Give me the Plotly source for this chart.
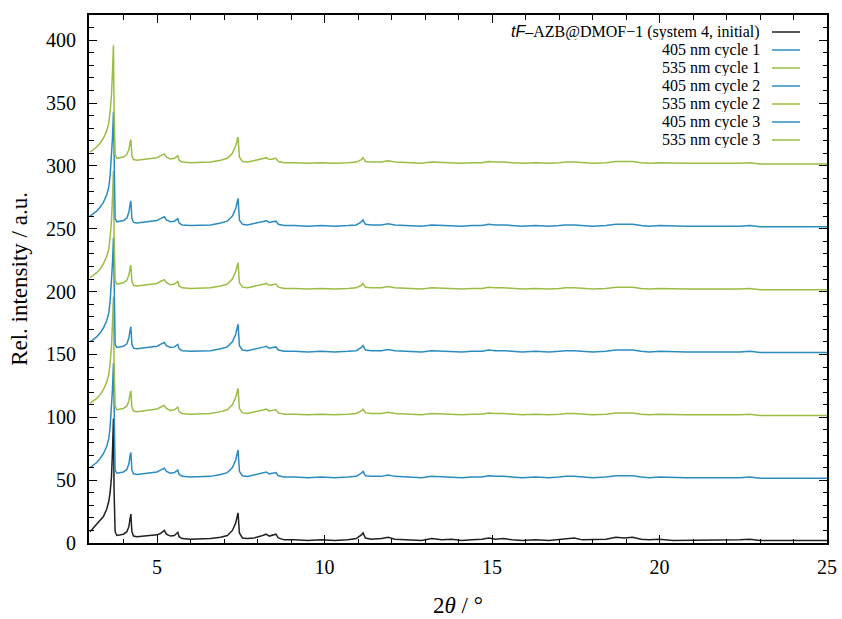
import plotly.graph_objects as go

# 2-theta positions (degrees)
two_theta = [3.00, 3.10, 3.20, 3.30, 3.40, 3.50, 3.56, 3.60, 3.64, 3.67,
             3.70, 3.72, 3.75, 3.80, 3.90, 4.00, 4.10, 4.16, 4.20, 4.22,
             4.25, 4.30, 4.40, 4.60, 4.80, 5.00, 5.10, 5.18, 5.22, 5.28,
             5.40, 5.52, 5.60, 5.62, 5.66, 5.75, 6.00, 6.30, 6.60, 6.90,
             7.10, 7.25, 7.35, 7.40, 7.42, 7.46, 7.55, 7.70, 7.90, 8.10,
             8.20, 8.26, 8.35, 8.45, 8.55, 8.62, 8.80, 9.10, 9.50, 9.90,
             10.30, 10.70, 10.95, 11.10, 11.15, 11.22, 11.40, 11.70, 11.90, 12.10,
             12.50, 12.90, 13.20, 13.50, 13.80, 14.10, 14.40, 14.70, 14.90, 15.10,
             15.35, 15.60, 15.90, 16.30, 16.70, 17.00, 17.20, 17.45, 17.70, 18.00,
             18.40, 18.70, 18.95, 19.20, 19.45, 19.70, 20.00, 20.40, 20.80, 21.20,
             21.60, 22.00, 22.40, 22.70, 23.00, 23.40, 23.80, 24.20, 24.60, 25.00]

# relative intensities (a.u.)
initial = [9, 12, 15, 18, 21, 27, 33, 40, 52, 72,
           99, 40, 9, 6, 6.5, 7, 9, 13, 20, 23,
           9, 5.5, 5, 5.5, 5.5, 6.5, 7.5, 9, 10, 7,
           5.5, 6, 8, 8.5, 5, 3.5, 3, 3, 3.5, 4.5,
           6, 10, 16, 22, 24, 8, 4, 3.5, 4, 5.5,
           6.5, 7, 5.5, 6, 7, 4, 2.5, 2.5, 2, 2.5,
           2, 2.5, 3.5, 6.5, 8, 4, 3, 3.5, 4.5, 3,
           2.5, 2, 3.5, 2.5, 3, 2, 2.5, 3, 4, 3,
           3.5, 2.5, 2, 2.5, 2, 3, 3.5, 4, 2.5, 2.5,
           3, 4.5, 4, 4.5, 3, 2.5, 3, 2, 2, 2.5,
           2, 2, 2.5, 3, 2, 2, 2, 2.5, 2, 2]

nm405 = [10, 12, 14, 17, 21, 27, 33, 42, 55, 72,
         93, 40, 8, 5.5, 6, 6.5, 8.5, 13, 20, 22,
         8, 5, 4.5, 5, 5.5, 6.5, 8, 9, 9.5, 7,
         5.5, 6, 7.5, 8, 4.5, 3, 2.5, 2.5, 3, 4.5,
         6, 10, 16, 22, 24, 7, 3.5, 3, 4, 5,
         6, 6.5, 5, 5.5, 6, 3.5, 2.5, 2.5, 2, 2.5,
         2, 2.5, 3, 5.5, 7, 3.5, 3, 3, 4, 3,
         2.5, 2, 3, 2.5, 2.5, 2, 2.5, 2.5, 3.5, 3,
         3, 2.5, 2, 2.5, 2, 2.5, 3, 3, 2.5, 2,
         2.5, 3.5, 3.5, 3.5, 2.5, 2, 2.5, 2, 2, 2,
         2, 1.5, 2, 2.5, 1.5, 1.5, 1.5, 2, 1.5, 1.5]

nm535 = [11, 13, 15, 18, 22, 28, 34, 43, 56, 74,
         96, 42, 9, 6, 6.5, 7, 9, 13, 19, 21,
         8, 5, 4.5, 5, 5.5, 6.5, 8, 9, 9.5, 7,
         5.5, 6, 7.5, 8, 4.5, 3, 2.5, 2.5, 3, 4.5,
         6, 10, 16, 21, 23, 7, 3.5, 3, 4, 5,
         6, 6.5, 5, 5.5, 6, 3.5, 2.5, 2.5, 2, 2.5,
         2, 2.5, 3, 5, 6.5, 3.5, 3, 3, 4, 3,
         2.5, 2, 3, 2.5, 2.5, 2, 2.5, 2.5, 3.5, 3,
         3, 2.5, 2, 2.5, 2, 2.5, 3, 3, 2.5, 2,
         2.5, 3.5, 3.5, 3.5, 2.5, 2, 2.5, 2, 2, 2,
         2, 1.5, 2, 2.5, 1.5, 1.5, 1.5, 2, 1.5, 1.5]

series_names = ["<i style='font-family:Liberation Sans'>tF</i>\u2013AZB@DMOF\u22121 (system 4, initial)",
                "405 nm cycle 1", "535 nm cycle 1",
                "405 nm cycle 2", "535 nm cycle 2",
                "405 nm cycle 3", "535 nm cycle 3"]
series_profiles = [initial, nm405, nm535, nm405, nm535, nm405, nm535]
stack_offsets = [0, 50, 100, 150, 200, 250, 300]

x_ticks = [5, 10, 15, 20, 25]
y_ticks = [0, 50, 100, 150, 200, 250, 300, 350, 400]

BLACK = "#202020"
BLUE = "#2c8cc0"
GREEN = "#9cbd45"
colors = [BLACK, BLUE, GREEN, BLUE, GREEN, BLUE, GREEN]

fig = go.Figure()
for name, prof, off, col in zip(series_names, series_profiles, stack_offsets, colors):
    fig.add_trace(go.Scatter(x=two_theta, y=[v + off for v in prof], mode="lines",
                             name=name, line=dict(color=col, width=1.5),
                             showlegend=False))

# gnuplot-style legend: right-aligned text, line sample on the right
L, R, T, B = 89, 15, 15, 76
W, H = 842, 619
pw, ph = W - L - R, H - T - B
def px_x(p):
    return (p - L) / pw
def px_y(p):
    return (H - B - p) / ph

for i, (name, col) in enumerate(zip(series_names, colors)):
    yp = 32 + i * 18
    fig.add_annotation(x=px_x(761), y=px_y(yp), xref="paper", yref="paper",
                       text=name, showarrow=False, xanchor="right", yanchor="middle",
                       height=16, borderpad=0,
                       font=dict(family="Liberation Serif", size=16, color="black"))
    fig.add_shape(type="line", xref="paper", yref="paper",
                  x0=px_x(772), x1=px_x(800), y0=px_y(yp), y1=px_y(yp),
                  line=dict(color=col, width=1.5))

axis_common = dict(showline=True, linecolor="black", linewidth=2, mirror="ticks",
                   ticks="inside", ticklen=8, tickwidth=1, tickcolor="black",
                   showgrid=False, zeroline=False, automargin=False,
                   tickfont=dict(family="Liberation Serif", size=20, color="black"))

fig.update_xaxes(range=[2.97, 25], tickvals=x_ticks, ticklabelstandoff=5,
                 minor=dict(dtick=1, ticks="inside", ticklen=4.5, tickcolor="black", showgrid=False),
                 title=dict(text="2<i>θ</i> / °", font=dict(family="Liberation Serif", size=23, color="black"),
                            standoff=20),
                 **axis_common)
fig.update_yaxes(range=[0, 420], tickvals=y_ticks, ticklabelstandoff=7,
                 minor=dict(dtick=10, ticks="inside", ticklen=4.5, tickcolor="black", showgrid=False),
                 title=dict(text="Rel. intensity / a.u.", font=dict(family="Liberation Serif", size=23, color="black"),
                            standoff=12),
                 **axis_common)

fig.update_layout(width=W, height=H, margin=dict(l=L, r=R, t=T, b=B),
                  plot_bgcolor="white", paper_bgcolor="white",
                  font=dict(family="Liberation Serif"))

fig.write_html("out.html")
